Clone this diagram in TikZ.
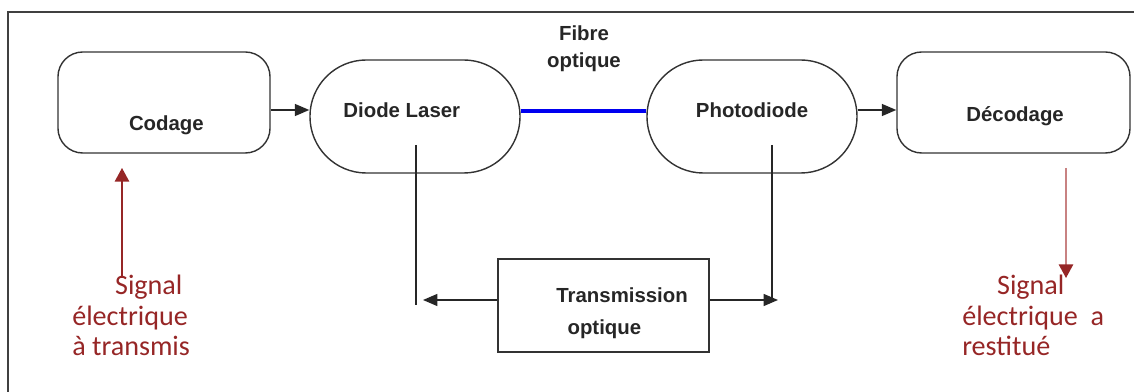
\documentclass[tikz,border=0pt]{standalone}
\usepackage{fontspec}
\setmainfont{Liberation Sans}
\newfontfamily\calfont{Carlito}
\usetikzlibrary{arrows.meta}
\definecolor{sigred}{RGB}{150,38,38}
\definecolor{sigpink}{RGB}{200,130,130}
\definecolor{fibreblue}{RGB}{0,0,240}
\tikzset{
  blockfont/.style={font=\fontsize{14.5}{19.5}\selectfont\bfseries, text=black!85},
  roundbox/.style={draw=black!80, line width=1pt, rounded corners=0.62cm,
    minimum width=5.3cm, minimum height=2.525cm},
  pillbox/.style={draw=black!80, line width=1pt, rounded corners=1.41cm,
    minimum width=5.25cm, minimum height=2.825cm},
  arr/.style={-{Triangle[length=0.36cm,width=0.3cm]}, line width=1pt, black!85},
  sigarr/.style={-{Triangle[length=0.34cm,width=0.36cm,color=sigred]}, line width=1pt, sigred},
  sigtext/.style={font=\calfont\fontsize{20}{21.5}\selectfont, text=sigred,
    align=left, inner sep=0pt, anchor=north west}
}
\begin{document}
\begin{tikzpicture}[x=0.025cm,y=-0.025cm]
    \useasboundingbox (0,0) rectangle (1134,392);
    \clip (0,0) rectangle (1134,392);
    % cadre
    \draw[line width=1pt, black!75] (8,12) rectangle (1150,410);
    % blocs
    \node[roundbox, label={[blockfont, xshift=0.06cm, yshift=-0.58cm]center:Codage}] (codage) at (164,102.5) {};
    \node[pillbox, label={[blockfont, xshift=-0.33cm, yshift=0.16cm]center:Diode Laser}] (laser) at (415,116.5) {};
    \node[pillbox, label={[blockfont, yshift=0.16cm]center:Photodiode}] (photo) at (752,116.5) {};
    \node[roundbox, minimum width=5.825cm, label={[blockfont, xshift=0.04cm, yshift=-0.33cm]center:D\'ecodage}] (decodage) at (1013.5,102.5) {};
    \node[draw=black!80, line width=1pt, minimum width=5.275cm, minimum height=2.325cm,
      label={[blockfont, font=\fontsize{14.5}{23}\selectfont\bfseries, align=left, anchor=north west, inner sep=0pt, yshift=-0.73cm]north west:{\hspace*{1.47cm}Transmission\\\hspace*{1.75cm}optique}}] (trans) at (603.5,305.5) {};
    \node[blockfont, align=center] (fibre) at (584,49) {Fibre\\optique};
    % liaisons
    \draw[arr] (codage.east |- 0,110) -- (laser.west |- 0,110);
    \draw[line width=3.2pt, fibreblue] (laser.east |- 0,111) -- (photo.west |- 0,111);
    \draw[arr] (photo.east |- 0,110) -- (decodage.west |- 0,110);
    % vers la transmission optique
    \coordinate (lt) at (416,145);
    \coordinate (lh) at (423,300);
    \coordinate (pt) at (772,145);
    \coordinate (ph) at (778,300);
    \draw[line width=1pt, black!85] (lt) -- (lt |- 0,305);
    \draw[line width=1pt, black!85] (pt) -- (pt |- ph);
    \draw[arr] (trans.west |- lh) -- (lh);
    \draw[arr] (trans.east |- ph) -- (ph);
    % signaux electriques
    \node[sigtext] (sigin) at (72,275) {\hspace*{1.07cm}Signal\\\'electrique\\\`a transmis};
    \node[sigtext] (sigout) at (962,275) {\hspace*{0.87cm}Signal\\\'electrique~ a\\restitu\'e};
    \coordinate (in0) at (122,278);
    \coordinate (in1) at (122,168);
    \coordinate (out0) at (1066,168);
    \coordinate (out1) at (1066,278);
    \draw[sigarr] (in0) -- (in1);
    \draw[sigarr, draw=sigpink] (out0) -- (out1);
\end{tikzpicture}
\end{document}
